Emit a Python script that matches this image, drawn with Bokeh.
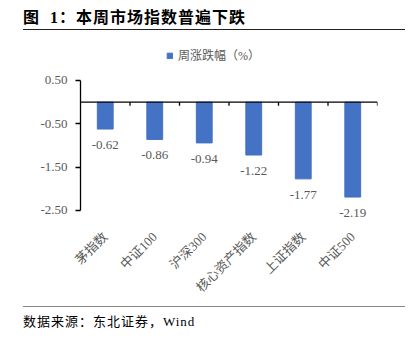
import math
from bokeh.plotting import figure
from bokeh.layouts import column
from bokeh.models import (ColumnDataSource, FixedTicker, NumeralTickFormatter, Div,
                          LabelSet, Span, Legend, LegendItem)
from bokeh.embed import file_html
from bokeh.resources import INLINE

categories = ["茅指数", "中证100", "沪深300", "核心资产指数", "上证指数", "中证500"]
values = [-0.62, -0.86, -0.94, -1.22, -1.77, -2.19]
y_ticks = [0.5, -0.5, -1.5, -2.5]
series_name = "周涨跌幅（%）"
title_text = "图  1：本周市场指数普遍下跌"
source_text = "数据来源：东北证券，Wind"

W = 413
BLUE = "#4472C4"
GRAY = "#595959"
FONT = "Liberation Serif, Noto Sans CJK SC"
CSS_FONT = "'Liberation Serif', 'Noto Sans CJK SC'"

n = len(categories)
centers = [i + 0.5 for i in range(n)]
src = ColumnDataSource(dict(x=centers, top=values, label=[f"{v:.2f}" for v in values]))

p = figure(width=W, height=272, x_range=(0, n), y_range=(-2.777, 1.3077),
           output_backend="svg", toolbar_location=None,
           min_border_left=80, min_border_right=36, min_border_top=14, min_border_bottom=81)
p.outline_line_color = None
p.grid.grid_line_color = None
p.background_fill_color = "white"
p.border_fill_color = "white"

r = p.vbar(x="x", top="top", bottom=0, width=0.32, color=BLUE, source=src)

# y axis
ya = p.yaxis[0]
ya.ticker = FixedTicker(ticks=y_ticks)
ya.bounds = (min(y_ticks), max(y_ticks))
ya.formatter = NumeralTickFormatter(format="0.00")
ya.major_label_text_font = FONT
ya.major_label_text_font_size = "13px"
ya.major_label_text_color = GRAY
ya.axis_line_color = "black"
ya.axis_line_width = 1.3
ya.major_tick_line_color = "black"
ya.major_tick_line_width = 1.3
ya.major_tick_out = 5
ya.major_tick_in = 0
ya.minor_tick_line_color = None
ya.major_label_standoff = 8

# x axis (labels only)
xa = p.xaxis[0]
xa.ticker = FixedTicker(ticks=centers)
xa.major_label_overrides = {c: lab for c, lab in zip(centers, categories)}
xa.major_label_orientation = math.pi / 4
xa.major_label_text_font = FONT
xa.major_label_text_font_size = "13px"
xa.major_label_text_color = GRAY
xa.axis_line_color = None
xa.major_tick_line_color = None
xa.minor_tick_line_color = None
xa.major_label_standoff = 6

# zero line with boundary ticks
p.add_layout(Span(location=0, dimension="width", line_color="black", line_width=1.3))
bounds = list(range(1, n + 1))
p.segment(x0=bounds, x1=bounds, y0=[0] * n, y1=[-0.08] * n, line_color="black", line_width=1.3)

# value labels
p.add_layout(LabelSet(x="x", y="top", text="label", source=src, text_align="center",
                      text_baseline="top", y_offset=-12, text_font=FONT,
                      text_font_size="13px", text_color=GRAY))

# legend
leg = Legend(items=[LegendItem(label=series_name, renderers=[r])], location=(86, 158),
             orientation="horizontal", label_text_font=FONT, label_text_font_size="12px",
             label_text_color=GRAY, glyph_width=7, glyph_height=7, border_line_color=None,
             background_fill_alpha=0, padding=0, margin=0, label_standoff=5)
p.add_layout(leg, "center")

title_div = Div(width=W, height=31, margin=0, text=(
    '<div style="position:relative;width:413px;height:31px;">'
    f'<div style="position:absolute;left:23px;top:7px;font-family:{CSS_FONT};'
    'font-weight:bold;font-size:16px;line-height:22px;letter-spacing:1px;color:#000;white-space:pre;">'
    f'{title_text}</div>'
    '<div style="position:absolute;left:23px;top:28.5px;width:382px;height:0;'
    'border-top:1.5px solid #222;"></div></div>'))

source_div = Div(width=W, height=40, margin=0, text=(
    '<div style="position:relative;width:413px;height:40px;">'
    '<div style="position:absolute;left:23px;top:2.5px;width:382px;height:0;'
    'border-top:1px solid #888;"></div>'
    f'<div style="position:absolute;left:23px;top:10px;font-family:{CSS_FONT};'
    'font-size:13px;line-height:18px;letter-spacing:1px;color:#000;white-space:pre;">'
    f'{source_text}</div></div>'))

layout = column(title_div, p, source_div, spacing=0, margin=0)
open("out.html", "w").write(file_html(layout, INLINE))
